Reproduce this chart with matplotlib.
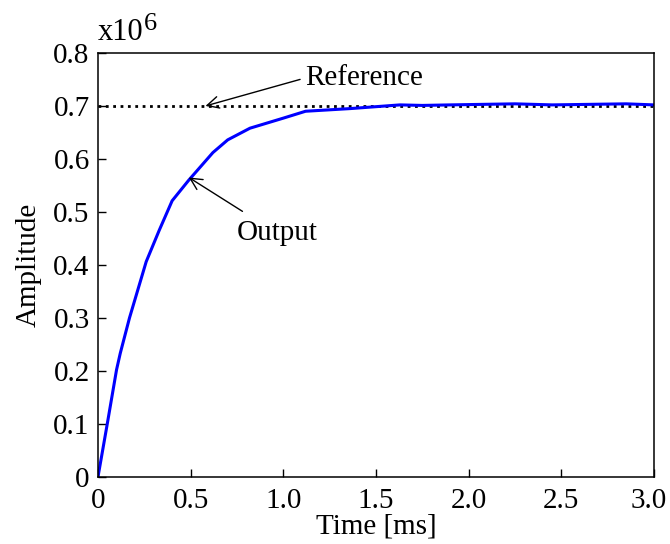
import matplotlib
matplotlib.use('Agg')
import matplotlib.pyplot as plt
import matplotlib.transforms as mtransforms
from matplotlib.ticker import FixedLocator, FixedFormatter

plt.rcParams['font.family'] = ['Liberation Serif', 'DejaVu Serif']

# step response (amplitude in units of 1e6)
time_ms = [0, 0.05, 0.10, 0.12, 0.17, 0.26, 0.33, 0.40, 0.49, 0.56, 0.62, 0.70,
           0.82, 1.00, 1.12, 1.36, 1.63, 1.75, 1.90, 2.25, 2.45, 2.85, 3.00]
output = [0, 0.100, 0.202, 0.233, 0.300, 0.406, 0.465, 0.521, 0.560, 0.588, 0.612, 0.636,
          0.658, 0.677, 0.690, 0.695, 0.702, 0.701, 0.702, 0.704, 0.702, 0.704, 0.702]
reference = 0.7

xticks = [0, 0.5, 1.0, 1.5, 2.0, 2.5, 3.0]
xlabels = ['0', '0.5', '1.0', '1.5', '2.0', '2.5', '3.0']
yticks = [0, 0.1, 0.2, 0.3, 0.4, 0.5, 0.6, 0.7, 0.8]
ylabels = ['0', '0.1', '0.2', '0.3', '0.4', '0.5', '0.6', '0.7', '0.8']

fig = plt.figure(figsize=(6.7, 5.44), dpi=100)
ax = fig.add_axes([0.1463, 0.1237, 0.8297, 0.7789])

ax.plot([0, 3.0], [reference, reference], color='black', linestyle=':', lw=2)
ax.plot(time_ms, output, color='#0000ff', lw=2.2)

ax.set_xlim(0, 3.0)
ax.set_ylim(0, 0.8)
ax.xaxis.set_major_locator(FixedLocator(xticks))
ax.xaxis.set_major_formatter(FixedFormatter(xlabels))
ax.yaxis.set_major_locator(FixedLocator(yticks))
ax.yaxis.set_major_formatter(FixedFormatter(ylabels))
ax.tick_params(direction='in', length=6, width=1, labelsize=21, top=False, right=False)
ax.tick_params(axis='x', pad=8)
ax.tick_params(axis='y', pad=6)
for s in ax.spines.values():
    s.set_linewidth(1.1)

# last x label sits a little left so it stays inside the figure
fig.canvas.draw()
last = ax.get_xticklabels()[-1]
last.set_transform(last.get_transform() +
                   mtransforms.ScaledTranslation(-5 / 100, 0, fig.dpi_scale_trans))

ax.set_xlabel('Time [ms]', fontsize=21, labelpad=0)
ax.set_ylabel('Amplitude', fontsize=21, labelpad=8)

ax.text(0.0, 1.031, 'x10', transform=ax.transAxes, fontsize=22,
        ha='left', va='baseline')
ax.text(0.083, 1.054, '6', transform=ax.transAxes, fontsize=19,
        ha='left', va='baseline')

ax.annotate('Reference', xy=(0.58, reference), xytext=(1.12, 0.753),
            fontsize=21, ha='left', va='center',
            arrowprops=dict(arrowstyle='->', color='black', lw=1, shrinkA=2, shrinkB=0,
                            relpos=(0, 0.5)))
ax.annotate('Output', xy=(0.49, 0.565), xytext=(0.965, 0.46),
            fontsize=21, ha='center', va='center',
            arrowprops=dict(arrowstyle='->', color='black', lw=1, shrinkA=8, shrinkB=0))

fig.savefig('out.png', dpi=100)
